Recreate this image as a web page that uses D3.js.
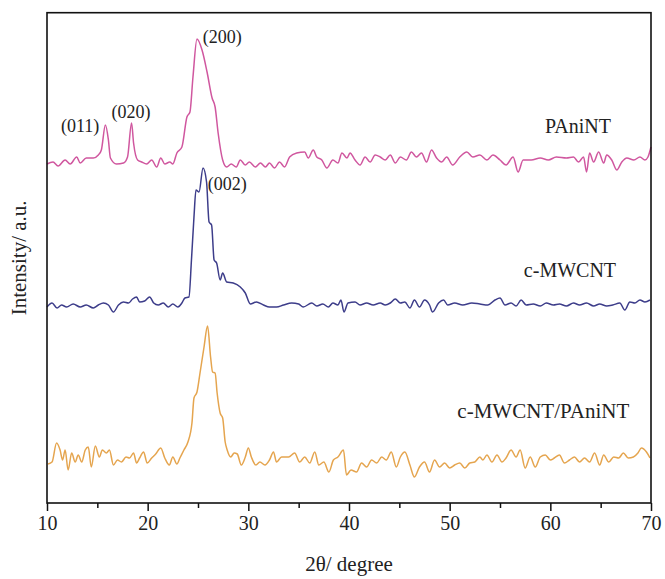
<!DOCTYPE html>
<head>
  <meta charset="utf-8">
  <script src="https://d3js.org/d3.v7.min.js"></script>
  <style>
    body { margin:0; background:#fff; }
    text { font-family: "Liberation Serif", "Times New Roman", serif; fill:#222; }
    .frame { fill:none; stroke:#111; stroke-width:1.6; }
    .trace { fill:none; stroke-width:1.5; stroke-linejoin:round; }
  </style>
</head>

<body>
  <script>
  // ---------- data : [2theta, stacked intensity (a.u.)] ----------
    var pAniNT = [[10.0,339],[10.6,341],[11.1,337],[11.8,343],[12.3,339],[12.95,346],[13.3,340],[13.9,345],[14.6,345],[15.1,348],[15.4,353],[15.8,378],[16.1,363],[16.3,345],[16.9,339],[17.6,340],[18.0,346],[18.4,380],[18.6,360],[19.0,343],[19.4,341],[19.9,339],[20.4,343],[20.9,336],[21.3,345],[21.7,339],[22.2,341],[22.5,339],[22.9,350],[23.4,356],[23.9,386],[24.2,391],[24.5,426],[24.9,464],[25.4,453],[25.9,431],[26.4,405],[26.7,396],[27.0,370],[27.45,343],[27.85,336],[28.3,339],[28.8,336],[29.2,343],[29.7,338],[30.1,341],[30.7,336],[31.2,340],[31.7,336],[32.1,340],[32.6,335],[33.1,341],[33.6,336],[34.1,346],[34.8,350],[35.6,351],[35.95,345],[36.45,353],[36.8,346],[37.3,343],[37.8,335],[38.4,343],[38.9,340],[39.3,350],[39.8,345],[40.1,350],[40.6,343],[41.1,338],[41.6,346],[42.1,341],[42.6,348],[43.1,346],[43.6,343],[44.1,348],[44.6,340],[45.1,346],[45.7,343],[46.2,351],[46.7,346],[47.2,350],[47.7,341],[48.2,353],[48.7,345],[49.2,341],[49.7,346],[50.3,338],[51.0,346],[51.7,351],[52.3,346],[53.0,348],[53.7,343],[54.3,348],[55.0,343],[55.6,338],[56.3,346],[56.8,331],[57.3,343],[58.1,343],[59.0,345],[59.8,343],[60.6,346],[61.6,345],[62.3,346],[62.8,341],[63.3,346],[63.6,331],[63.9,350],[64.3,341],[64.8,351],[65.3,340],[65.6,348],[66.1,343],[66.6,333],[67.1,341],[67.6,345],[68.3,343],[68.9,346],[69.4,343],[69.7,346],[70.0,356]];

    var cMWCNT = [[10.0,196],[10.5,200],[11.0,195],[11.45,198],[11.95,196],[12.6,199],[13.3,196],[13.9,198],[14.6,195],[15.1,198],[15.6,200],[16.1,198],[16.6,191],[17.1,198],[17.6,201],[18.1,200],[18.5,204],[18.9,206],[19.2,201],[19.7,202],[20.2,206],[20.6,200],[21.05,198],[21.55,200],[22.05,196],[22.5,199],[23.0,196],[23.4,200],[23.7,205],[24.1,206],[24.35,243],[24.6,286],[24.8,313],[25.1,311],[25.5,335],[25.85,321],[26.1,281],[26.35,278],[26.6,243],[26.85,240],[27.2,223],[27.45,230],[27.85,221],[28.5,220],[29.2,216],[29.7,210],[30.2,199],[30.8,201],[31.5,198],[32.1,196],[32.8,196],[33.5,198],[34.3,200],[35.0,199],[35.45,196],[36.3,200],[36.8,197],[37.4,199],[37.95,196],[38.4,200],[38.9,198],[39.2,203],[39.5,191],[39.9,200],[40.6,201],[41.1,198],[41.75,200],[42.4,198],[43.1,200],[43.6,198],[44.1,200],[44.6,204],[45.1,200],[45.55,201],[46.05,195],[46.5,203],[47.0,196],[47.5,203],[48.0,198],[48.3,191],[48.9,200],[49.4,203],[49.8,198],[50.5,200],[51.3,198],[52.2,200],[53.0,199],[53.8,198],[54.5,203],[55.0,205],[55.5,198],[56.1,200],[56.6,197],[57.1,203],[57.6,198],[58.3,199],[59.0,197],[59.6,200],[60.3,198],[60.9,199],[61.6,197],[62.3,200],[62.9,198],[63.6,200],[64.3,197],[64.9,199],[65.6,197],[66.2,198],[66.9,200],[67.4,193],[67.9,201],[68.4,200],[68.9,203],[69.4,201],[69.9,203]];

    var composite = [[10.1,39],[10.5,41],[10.95,60],[11.3,53],[11.55,43],[11.8,53],[12.1,33],[12.45,50],[12.8,41],[13.1,48],[13.45,41],[13.8,53],[14.1,56],[14.4,36],[14.8,57],[15.2,46],[15.5,53],[15.9,50],[16.2,53],[16.6,38],[17.0,43],[17.4,41],[17.85,46],[18.2,45],[18.6,50],[18.9,40],[19.2,45],[19.6,51],[19.95,40],[20.4,45],[20.8,49],[21.3,55],[21.7,45],[22.15,38],[22.5,46],[22.9,39],[23.2,45],[23.6,53],[24.0,61],[24.4,80],[24.6,105],[24.9,111],[25.2,130],[25.6,156],[25.95,177],[26.25,146],[26.45,131],[26.7,130],[26.9,110],[27.2,90],[27.45,85],[27.7,61],[27.9,53],[28.25,46],[28.6,50],[28.9,49],[29.3,38],[29.7,46],[30.0,55],[30.3,46],[30.75,38],[31.15,41],[31.65,38],[32.1,43],[32.5,51],[32.8,41],[33.3,46],[34.0,46],[34.6,50],[35.1,41],[35.6,46],[36.1,40],[36.6,51],[37.0,38],[37.5,41],[38.0,31],[38.45,43],[38.9,46],[39.45,53],[39.75,28],[40.2,33],[40.75,31],[41.25,40],[41.75,36],[42.25,43],[42.75,40],[43.25,46],[43.7,43],[44.2,51],[44.7,36],[45.1,46],[45.55,51],[46.05,38],[46.5,26],[47.0,36],[47.5,41],[48.0,31],[48.5,43],[49.0,36],[49.5,40],[50.0,35],[50.5,38],[51.0,40],[51.5,35],[52.0,40],[52.5,41],[53.0,46],[53.3,43],[53.7,48],[54.2,41],[54.7,48],[55.2,41],[55.6,45],[56.1,53],[56.6,46],[57.0,53],[57.5,35],[58.0,46],[58.5,36],[59.0,46],[59.5,48],[60.0,43],[60.4,45],[60.9,48],[61.4,40],[61.9,43],[62.4,46],[62.9,41],[63.4,45],[63.9,41],[64.4,50],[64.9,38],[65.3,48],[65.8,41],[66.3,46],[66.8,45],[67.25,50],[67.75,45],[68.25,46],[68.7,50],[69.05,55],[69.55,51],[69.9,45]];

    var seriesNames  = ["PAniNT", "c-MWCNT", "c-MWCNT/PAniNT"];
    var seriesColors = ["#d0579f", "#3d3d8a", "#e5a54f"];
    // label anchor [2theta, intensity]
    var seriesLabelAt = [[62.75, 370], [61.95, 226], [59.3, 85]];

    var peakLabels = ["(011)", "(020)", "(200)", "(002)"];
    var peakLabelAt = [[13.3, 371], [18.35, 385], [27.4, 460], [27.9, 313]];

    var majorTicks = [10, 20, 30, 40, 50, 60, 70];
    var minorTicks = [15, 25, 35, 45, 55, 65];

  // ---------- svg ----------
    var W = 665, H = 579;
    var margin = {top: 12.7, right: 14, bottom: 76, left: 47};
    var width = W - margin.left - margin.right,
        height = H - margin.top - margin.bottom;

    var svg = d3.select("body").append("svg")
      .attr("width", W)
      .attr("height", H);

    var g = svg.append("g")
      .attr("transform", "translate(" + margin.left + "," + margin.top + ")");

    var x = d3.scaleLinear().domain([10, 70]).range([0, width]);
    var y = d3.scaleLinear().domain([0, 490.3]).range([height, 0]);

    var line = d3.line()
      .curve(d3.curveMonotoneX)
      .x(d => x(d[0]))
      .y(d => y(d[1]));

    var allSeries = [pAniNT, cMWCNT, composite];

    g.selectAll(".trace")
      .data(allSeries)
      .enter().append("path")
      .attr("class", "trace")
      .attr("stroke", (d, i) => seriesColors[i])
      .attr("d", line);

  // ---------- axes ----------
    var xAxis = g.append("g")
      .attr("transform", "translate(0," + height + ")")
      .call(d3.axisBottom(x).tickValues(majorTicks).tickSize(8).tickSizeOuter(0).tickPadding(5));
    xAxis.select(".domain").remove();
    xAxis.selectAll("line").attr("stroke", "#111").attr("stroke-width", 1.5);
    xAxis.selectAll("text")
      .attr("fill", "#222")
      .style("font-family", "'Liberation Serif', serif")
      .style("font-size", "20px");

    var xMinor = g.append("g")
      .attr("transform", "translate(0," + height + ")")
      .call(d3.axisBottom(x).tickValues(minorTicks).tickSize(5).tickSizeOuter(0).tickFormat(""));
    xMinor.select(".domain").remove();
    xMinor.selectAll("line").attr("stroke", "#111").attr("stroke-width", 1.5);

    g.append("rect")
      .attr("class", "frame")
      .attr("width", width)
      .attr("height", height);

  // ---------- titles ----------
    svg.append("text")
      .attr("x", margin.left + width / 2)
      .attr("y", 571)
      .attr("text-anchor", "middle")
      .style("font-size", "21px")
      .text("2\u03b8/ degree");

    svg.append("text")
      .attr("transform", "translate(26," + (margin.top + height / 2) + ") rotate(-90)")
      .attr("text-anchor", "middle")
      .style("font-size", "21px")
      .text("Intensity/ a.u.");

  // ---------- labels ----------
    g.selectAll(".series-label")
      .data(seriesNames)
      .enter().append("text")
      .attr("class", "series-label")
      .attr("x", (d, i) => x(seriesLabelAt[i][0]))
      .attr("y", (d, i) => y(seriesLabelAt[i][1]))
      .attr("text-anchor", "middle")
      .style("font-size", (d, i) => i == 2 ? "21px" : "20px")
      .text(d => d);

    g.selectAll(".peak-label")
      .data(peakLabels)
      .enter().append("text")
      .attr("class", "peak-label")
      .attr("x", (d, i) => x(peakLabelAt[i][0]))
      .attr("y", (d, i) => y(peakLabelAt[i][1]))
      .attr("text-anchor", "middle")
      .style("font-size", "18px")
      .text(d => d);
  </script>
</body>
